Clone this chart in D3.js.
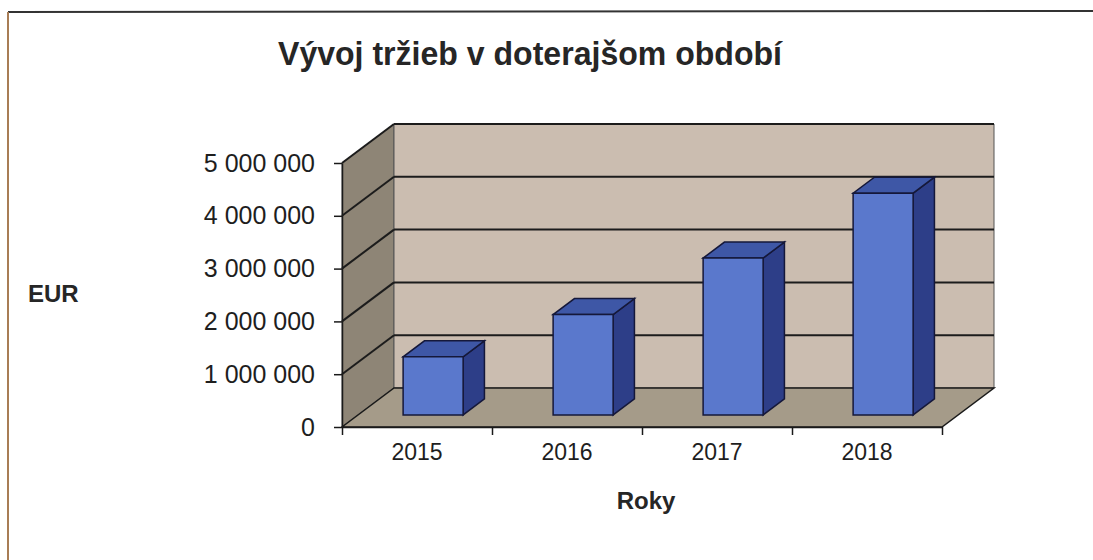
<!DOCTYPE html>
<html>
<head>
<meta charset="utf-8">
<script src="https://cdn.jsdelivr.net/npm/d3@7"></script>
<style>
  body { margin: 0; background: #fff; }
  svg { display: block; font-family: "Liberation Sans", Arial, sans-serif; }
  .axis path, .axis line { stroke: #1a1a1a; stroke-width: 1.5; }
  .axis text { fill: #1e1e1e; }
</style>
</head>
<body>
<div id="chart"></div>
<script>
// Data
var years = ['2015', '2016', '2017', '2018'];
var revenue = [1100000, 1900000, 2970000, 4200000];
var yTicks = [0, 1000000, 2000000, 3000000, 4000000, 5000000];
var title = 'Vývoj tržieb v doterajšom období';
var yLabel = 'EUR';
var xLabel = 'Roky';

var width = 1093, height = 560;

// 3D depth offset (back wall relative to front plane)
var depthDx = 52, depthDy = -39;
// bar occupies this part of the depth
var barFront = 0.31, barBack = 0.72, barWidth = 60;

var colors = {
  sideWall: '#8e8576',
  backWall: '#cbbdb0',
  floor: '#a59b89',
  grid: '#1c1c1c',
  barFront: '#5a78cc',
  barTop: '#3e57a6',
  barSide: '#2d3e88',
  barStroke: '#15183a'
};

// Scales
var x = d3.scaleBand()
  .domain(years)
  .range([342, 942]);

var xEdge = d3.scaleLinear()
  .domain([0, years.length])
  .range([342, 942]);

var y = d3.scaleLinear()
  .domain([0, 5000000])
  .range([427, 163]);

var fmt = d3.formatLocale({ decimal: ',', thousands: ' ', grouping: [3], currency: ['', ' €'] }).format(',d');

function pt(px, py, f) {
  return [px + depthDx * f, py + depthDy * f];
}

function poly(points) {
  return points.map(function(p) { return p.join(','); }).join(' ');
}

var svg = d3.select('#chart').append('svg')
  .attr('width', width)
  .attr('height', height);

// Frame of the scanned page
svg.append('line')
  .attr('x1', 8).attr('y1', 12).attr('x2', width).attr('y2', 11)
  .attr('stroke', '#333').attr('stroke-width', 2);
svg.append('line')
  .attr('x1', 8).attr('y1', 12).attr('x2', 8).attr('y2', height)
  .attr('stroke', '#a87d55').attr('stroke-width', 2);

// Title
svg.append('text')
  .attr('x', 530)
  .attr('y', 65)
  .attr('text-anchor', 'middle')
  .attr('textLength', 504)
  .attr('lengthAdjust', 'spacingAndGlyphs')
  .style('font-size', '34px')
  .style('font-weight', 'bold')
  .style('fill', '#262626')
  .text(title);

var x0 = x.range()[0], x1 = x.range()[1];
var yTop = y(5000000), yBase = y(0);

// Side wall
svg.append('polygon')
  .attr('points', poly([[x0, yBase], [x0, yTop], pt(x0, yTop, 1), pt(x0, yBase, 1)]))
  .attr('fill', colors.sideWall)
  .attr('stroke', '#555').attr('stroke-width', 1);

// Back wall
svg.append('polygon')
  .attr('points', poly([pt(x0, yTop, 1), pt(x1, yTop, 1), pt(x1, yBase, 1), pt(x0, yBase, 1)]))
  .attr('fill', colors.backWall)
  .attr('stroke', '#555').attr('stroke-width', 1);

// Gridlines
var grid = svg.append('g').attr('class', 'grid');
yTicks.filter(function(v) { return v > 0; }).forEach(function(v) {
  var a = pt(x0, y(v), 1), b = pt(x1, y(v), 1);
  grid.append('line')
    .attr('x1', x0).attr('y1', y(v)).attr('x2', a[0]).attr('y2', a[1])
    .attr('stroke', colors.grid).attr('stroke-width', 2);
  grid.append('line')
    .attr('x1', a[0]).attr('y1', a[1]).attr('x2', b[0]).attr('y2', b[1])
    .attr('stroke', colors.grid).attr('stroke-width', 2);
});

// Floor
svg.append('polygon')
  .attr('points', poly([[x0, yBase], [x1, yBase], pt(x1, yBase, 1), pt(x0, yBase, 1)]))
  .attr('fill', colors.floor)
  .attr('stroke', '#1a1a1a').attr('stroke-width', 1.5);

// Bars
var bars = svg.selectAll('.bar')
  .data(years.map(function(yr, i) { return { year: yr, value: revenue[i] }; }))
  .enter().append('g')
    .attr('class', 'bar');

function left(d) { return x(d.year) + (x.bandwidth() - barWidth) / 2; }

bars.append('polygon')
  .attr('points', function(d) {
    var l = left(d), r = l + barWidth, t = y(d.value);
    return poly([pt(r, t, barFront), pt(r, yBase, barFront), pt(r, yBase, barBack), pt(r, t, barBack)]);
  })
  .attr('fill', colors.barSide)
  .attr('stroke', colors.barStroke).attr('stroke-width', 1.5);

bars.append('polygon')
  .attr('points', function(d) {
    var l = left(d), r = l + barWidth, t = y(d.value);
    return poly([pt(l, t, barFront), pt(r, t, barFront), pt(r, t, barBack), pt(l, t, barBack)]);
  })
  .attr('fill', colors.barTop)
  .attr('stroke', colors.barStroke).attr('stroke-width', 1.5);

bars.append('polygon')
  .attr('points', function(d) {
    var l = left(d), r = l + barWidth, t = y(d.value);
    return poly([pt(l, t, barFront), pt(r, t, barFront), pt(r, yBase, barFront), pt(l, yBase, barFront)]);
  })
  .attr('fill', colors.barFront)
  .attr('stroke', colors.barStroke).attr('stroke-width', 1.5);

// Y axis
svg.append('g')
  .attr('class', 'y axis')
  .attr('transform', 'translate(' + x0 + ',0)')
  .call(d3.axisLeft(y).tickValues(yTicks).tickSize(8).tickSizeOuter(0).tickPadding(19).tickFormat(fmt))
  .selectAll('text')
    .style('font-size', '25px');

// X axis: ticks at category edges
svg.append('g')
  .attr('class', 'x axis')
  .attr('transform', 'translate(0,' + yBase + ')')
  .call(d3.axisBottom(xEdge).tickValues(d3.range(years.length + 1)).tickSize(8).tickSizeOuter(0).tickFormat(''));

// X axis labels
svg.append('g')
  .attr('class', 'x axis labels')
  .attr('transform', 'translate(0,' + yBase + ')')
  .call(d3.axisBottom(x).tickSize(0).tickPadding(17))
  .call(function(g) { g.select('.domain').remove(); })
  .selectAll('text')
    .style('font-size', '23px');

// Axis titles
svg.append('text')
  .attr('x', 28)
  .attr('y', 302)
  .style('font-size', '24px')
  .style('font-weight', 'bold')
  .style('fill', '#262626')
  .text(yLabel);

svg.append('text')
  .attr('x', 646)
  .attr('y', 509)
  .attr('text-anchor', 'middle')
  .style('font-size', '24px')
  .style('font-weight', 'bold')
  .style('fill', '#262626')
  .text(xLabel);
</script>
</body>
</html>
